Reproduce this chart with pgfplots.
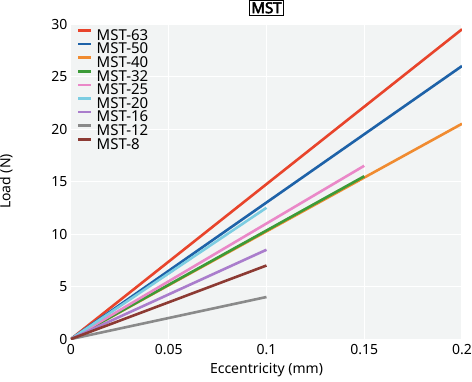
\documentclass[border=0pt]{standalone}
\usepackage{fontspec}
\setmainfont{Noto Sans}
\setsansfont{Noto Sans}
\newfontfamily\titlefont{Noto Sans}[FakeBold=3]
\usepackage{pgfplots}
\pgfplotsset{compat=1.18}
\definecolor{c63}{HTML}{E8442B}
\definecolor{c50}{HTML}{1E62A8}
\definecolor{c40}{HTML}{F08B30}
\definecolor{c32}{HTML}{3C9B38}
\definecolor{c25}{HTML}{EA88C8}
\definecolor{c20}{HTML}{7CCDE2}
\definecolor{c16}{HTML}{AA7DCC}
\definecolor{c12}{HTML}{8A8A8A}
\definecolor{c8}{HTML}{8C3A33}
\definecolor{bg}{HTML}{F2F4F4}
\begin{document}
\begin{tikzpicture}
\useasboundingbox (-71pt,-42pt) rectangle (401pt,339pt);
\begin{axis}[
  at={(0,0)}, anchor=south west,
  scale only axis, width=391pt, height=315pt,
  xmin=0, xmax=0.2, ymin=0, ymax=30,
  xtick={0,0.05,0.1,0.15,0.2},
  xticklabels={0,0.05,0.1,0.15,0.2},
  ytick={0,5,10,15,20,25,30},
  axis background/.style={fill=bg},
  axis line style={draw=none},
  major tick length=0pt,
  grid=major, grid style={white, line width=1pt},
  tick label style={font=\fontsize{14}{15}\selectfont},
  xticklabel style={yshift=-2pt},
  /pgf/number format/assume math mode=true,
  xlabel={Eccentricity (mm)}, ylabel={Load (N)},
  label style={font=\fontsize{14}{15}\selectfont},
  xlabel style={at={(0.5,0)}, anchor=north, yshift=-21pt},
  ylabel style={at={(0,0.5)}, anchor=south, yshift=55pt},
  title={\setlength{\fboxsep}{1.5pt}\setlength{\fboxrule}{1pt}\fbox{\titlefont MST}},
  title style={font=\fontsize{15}{16}\selectfont, at={(0.5,1)}, anchor=south, yshift=2pt, inner sep=0pt},
  legend style={at={(0.0153,0.984)}, anchor=north west, draw=none, fill=none,
    font=\fontsize{15}{15}\selectfont, row sep=0.6pt, column sep=4pt, inner sep=0pt,
    nodes={inner sep=0pt, text height=11pt, text depth=2pt}},
  legend cell align=left,
  legend image code/.code={\draw[#1, line width=2.5pt] (0pt,5.2pt) -- (13pt,5.2pt);},
  every axis plot/.append style={line width=2.6pt},
]
\addplot[c63] coordinates {(0,0) (0.2,29.5)};
\addlegendentry{MST-63}
\addplot[c50] coordinates {(0,0) (0.2,26)};
\addlegendentry{MST-50}
\addplot[c40] coordinates {(0,0) (0.2,20.5)};
\addlegendentry{MST-40}
\addplot[c32] coordinates {(0,0) (0.15,15.5)};
\addlegendentry{MST-32}
\addplot[c25] coordinates {(0,0) (0.15,16.5)};
\addlegendentry{MST-25}
\addplot[c20] coordinates {(0,0) (0.1,12.5)};
\addlegendentry{MST-20}
\addplot[c16] coordinates {(0,0) (0.1,8.5)};
\addlegendentry{MST-16}
\addplot[c12] coordinates {(0,0) (0.1,4)};
\addlegendentry{MST-12}
\addplot[c8] coordinates {(0,0) (0.1,7)};
\addlegendentry{MST-8}
\end{axis}
\end{tikzpicture}
\end{document}
